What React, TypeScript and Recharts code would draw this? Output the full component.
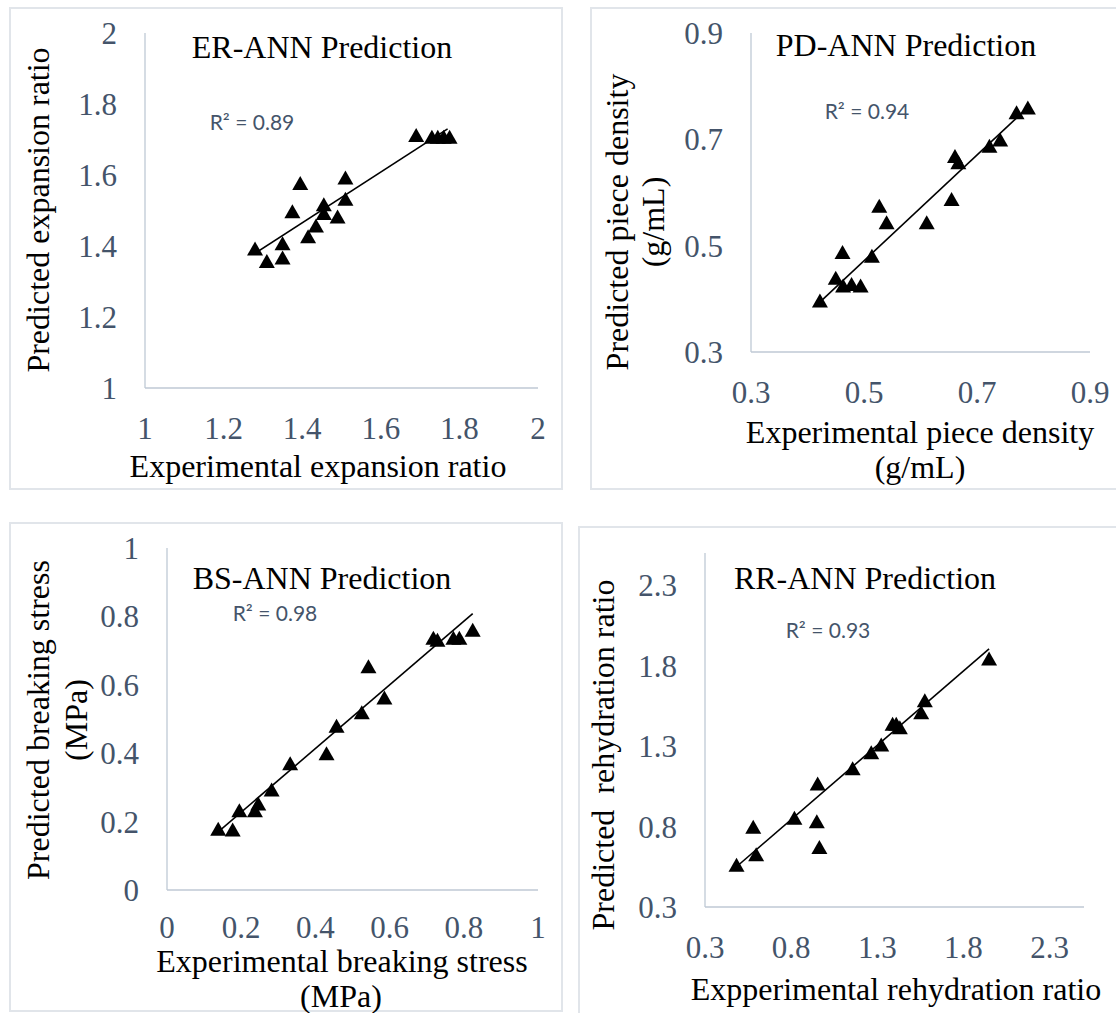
import { ScatterChart, Scatter, XAxis, YAxis, ReferenceLine } from "recharts";

// ER – expansion ratio
const erExperimental = [1.28, 1.31, 1.35, 1.35, 1.375, 1.395, 1.415, 1.435, 1.455, 1.455, 1.49, 1.51, 1.51, 1.69, 1.73, 1.745, 1.76, 1.775];
const erPredicted = [1.39, 1.355, 1.365, 1.405, 1.495, 1.575, 1.425, 1.455, 1.515, 1.49, 1.48, 1.59, 1.53, 1.71, 1.705, 1.705, 1.705, 1.705];
const erTrend = [[1.277, 1.377], [1.77, 1.73]];
const erTicks = [1, 1.2, 1.4, 1.6, 1.8, 2];

// PD – piece density
const pdExperimental = [0.422, 0.45, 0.462, 0.463, 0.478, 0.494, 0.514, 0.527, 0.54, 0.611, 0.655, 0.661, 0.667, 0.722, 0.741, 0.77, 0.79];
const pdPredicted = [0.395, 0.438, 0.486, 0.423, 0.426, 0.423, 0.479, 0.573, 0.542, 0.542, 0.586, 0.667, 0.655, 0.686, 0.698, 0.749, 0.758];
const pdTrend = [[0.421, 0.393], [0.791, 0.761]];
const pdTicks = [0.3, 0.5, 0.7, 0.9];

// BS – breaking stress
const bsExperimental = [0.138, 0.177, 0.195, 0.237, 0.246, 0.282, 0.332, 0.43, 0.457, 0.525, 0.543, 0.586, 0.718, 0.729, 0.772, 0.788, 0.824];
const bsPredicted = [0.176, 0.174, 0.23, 0.23, 0.25, 0.291, 0.368, 0.397, 0.477, 0.517, 0.651, 0.56, 0.735, 0.729, 0.735, 0.735, 0.758];
const bsTrend = [[0.138, 0.17], [0.824, 0.808]];
const bsTicks = [0, 0.2, 0.4, 0.6, 0.8, 1];

// RR – rehydration ratio
const rrExperimental = [0.483, 0.597, 0.58, 0.819, 0.949, 0.964, 0.954, 1.157, 1.265, 1.323, 1.389, 1.41, 1.431, 1.555, 1.576, 1.949];
const rrPredicted = [0.556, 0.622, 0.793, 0.849, 0.827, 0.667, 1.062, 1.156, 1.256, 1.304, 1.433, 1.433, 1.411, 1.504, 1.578, 1.838];
const rrTrend = [[0.476, 0.544], [1.949, 1.904]];
const rrTicks = [0.3, 0.8, 1.3, 1.8, 2.3];

const SERIF = '"Liberation Serif", "Times New Roman", serif';
const TICK = { fill: "#44546a", fontSize: 31, fontFamily: "Liberation Serif" };
const AXIS_LINE = { stroke: "#bfc9d5", strokeWidth: 1.3 };

const zip = (xs: number[], ys: number[]) => xs.map((x, i) => ({ x, y: ys[i] }));

function Triangle(props: any) {
  const { cx, cy } = props;
  if (cx == null || cy == null) return <g />;
  return <polygon points={`${cx},${cy - 8} ${cx + 8},${cy + 6} ${cx - 8},${cy + 6}`} fill="#000" />;
}

type Pos = { x: number; y: number };

interface PanelProps {
  frame: { left: number; top: number; width: number; height: number };
  plot: { left: number; top: number; right: number; bottom: number };
  domain: [number, number];
  ticks: number[];
  points: { x: number; y: number }[];
  trend: number[][];
  title: string;
  titlePos: Pos;
  r2: string;
  r2Pos: Pos;
  xTitle: { text: string; pos: Pos }[];
  yTitle: { text: string; pos: Pos }[];
  xTickMargin?: number;
}

const centered = (p: Pos, extra: React.CSSProperties = {}): React.CSSProperties => ({
  position: "absolute",
  left: p.x,
  top: p.y,
  transform: "translate(-50%, -50%)",
  whiteSpace: "pre",
  lineHeight: 1,
  ...extra,
});

function Panel(p: PanelProps) {
  const yw = 110, xh = 80, mt = 30, mr = 30;
  const width = p.plot.right - p.plot.left + yw + mr;
  const height = p.plot.bottom - p.plot.top + mt + xh;
  return (
    <>
      <div style={{
        position: "absolute",
        left: p.frame.left,
        top: p.frame.top,
        width: p.frame.width,
        height: p.frame.height,
        border: "2px solid #e1e5ea",
        boxSizing: "border-box",
      }} />
      <div style={{ position: "absolute", left: p.plot.left - yw, top: p.plot.top - mt, fontFamily: SERIF }}>
        <ScatterChart width={width} height={height} margin={{ top: mt, right: mr, left: 0, bottom: 0 }}>
          <XAxis
            type="number"
            dataKey="x"
            domain={p.domain}
            ticks={p.ticks}
            interval={0}
            allowDataOverflow
            height={xh}
            tickLine={false}
            axisLine={AXIS_LINE}
            tick={TICK}
            tickMargin={p.xTickMargin ?? 23}
          />
          <YAxis
            type="number"
            dataKey="y"
            domain={p.domain}
            ticks={p.ticks}
            interval={0}
            allowDataOverflow
            width={yw}
            tickLine={false}
            axisLine={AXIS_LINE}
            tick={TICK}
            tickMargin={22}
          />
          <Scatter data={p.points} shape={Triangle} isAnimationActive={false} />
          <ReferenceLine
            segment={[{ x: p.trend[0][0], y: p.trend[0][1] }, { x: p.trend[1][0], y: p.trend[1][1] }]}
            stroke="#000"
            strokeWidth={1.6}
          />
        </ScatterChart>
      </div>
      <div style={centered(p.titlePos, { fontFamily: SERIF, fontSize: 32, color: "#000" })}>{p.title}</div>
      <div style={centered(p.r2Pos, { fontFamily: "Lato, 'Open Sans', sans-serif", fontSize: 21, color: "#44546a" })}>{p.r2}</div>
      {p.xTitle.map((t) => (
        <div key={t.text} style={centered(t.pos, { fontFamily: SERIF, fontSize: 32, color: "#000" })}>{t.text}</div>
      ))}
      {p.yTitle.map((t) => (
        <div key={t.text} style={centered(t.pos, { fontFamily: SERIF, fontSize: 32, color: "#000", transform: "translate(-50%, -50%) rotate(-90deg)" })}>{t.text}</div>
      ))}
    </>
  );
}

export default function App() {
  return (
    <div style={{ position: "relative", width: 1116, height: 1013, overflow: "hidden", background: "#fff" }}>
      <style>{"body{margin:0}"}</style>
      <Panel
        frame={{ left: 9, top: 7, width: 554, height: 483 }}
        plot={{ left: 145, top: 33, right: 538, bottom: 388 }}
        domain={[1, 2]}
        ticks={erTicks}
        points={zip(erExperimental, erPredicted)}
        trend={erTrend}
        title="ER-ANN Prediction"
        titlePos={{ x: 322, y: 47 }}
        r2="R² = 0.89"
        r2Pos={{ x: 252, y: 121 }}
        xTitle={[{ text: "Experimental expansion ratio", pos: { x: 318, y: 466 } }]}
        yTitle={[{ text: "Predicted expansion ratio", pos: { x: 38, y: 210 } }]}
      />
      <Panel
        frame={{ left: 590, top: 7, width: 540, height: 483 }}
        plot={{ left: 751, top: 33, right: 1090, bottom: 352 }}
        domain={[0.3, 0.9]}
        ticks={pdTicks}
        points={zip(pdExperimental, pdPredicted)}
        trend={pdTrend}
        title="PD-ANN Prediction"
        titlePos={{ x: 906, y: 45 }}
        r2="R² = 0.94"
        r2Pos={{ x: 867, y: 110 }}
        xTitle={[
          { text: "Experimental piece density", pos: { x: 920, y: 432 } },
          { text: "(g/mL)", pos: { x: 920, y: 467 } },
        ]}
        yTitle={[
          { text: "Predicted piece density", pos: { x: 617, y: 222 } },
          { text: "(g/mL)", pos: { x: 653, y: 222 } },
        ]}
      />
      <Panel
        frame={{ left: 9, top: 522, width: 554, height: 490 }}
        plot={{ left: 167, top: 548, right: 538, bottom: 890 }}
        domain={[0, 1]}
        ticks={bsTicks}
        points={zip(bsExperimental, bsPredicted)}
        trend={bsTrend}
        title="BS-ANN Prediction"
        titlePos={{ x: 322, y: 578 }}
        r2="R² = 0.98"
        r2Pos={{ x: 275, y: 612 }}
        xTitle={[
          { text: "Experimental breaking stress", pos: { x: 342, y: 961 } },
          { text: "(MPa)", pos: { x: 341, y: 996 } },
        ]}
        yTitle={[
          { text: "Predicted breaking stress", pos: { x: 38, y: 720 } },
          { text: "(MPa)", pos: { x: 76, y: 720 } },
        ]}
        xTickMargin={20}
      />
      <Panel
        frame={{ left: 578, top: 526, width: 560, height: 500 }}
        plot={{ left: 705, top: 553, right: 1084, bottom: 907 }}
        domain={[0.3, 2.5]}
        ticks={rrTicks}
        points={zip(rrExperimental, rrPredicted)}
        trend={rrTrend}
        title="RR-ANN Prediction"
        titlePos={{ x: 865, y: 578 }}
        r2="R² = 0.93"
        r2Pos={{ x: 828, y: 629 }}
        xTitle={[{ text: "Expperimental rehydration ratio", pos: { x: 896, y: 989 } }]}
        yTitle={[{ text: "Predicted  rehydration ratio", pos: { x: 603, y: 755 } }]}
      />
    </div>
  );
}
